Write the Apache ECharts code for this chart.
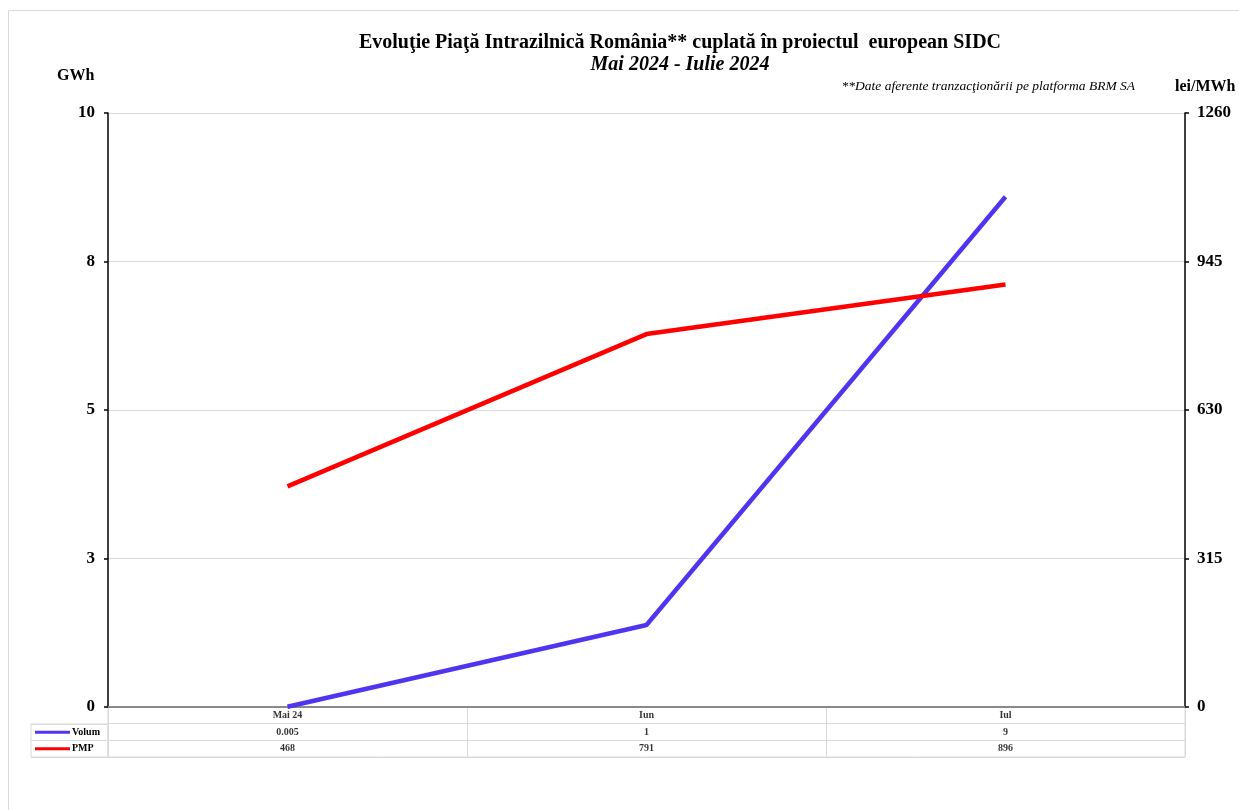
<!DOCTYPE html>
<html>
<head>
<meta charset="utf-8">
<script src="https://cdn.jsdelivr.net/npm/echarts@6/dist/echarts.min.js"></script>
<style>
html,body{margin:0;padding:0;background:#fff;}
#chart{width:1239px;height:810px;}
</style>
</head>
<body>
<div id="chart"></div>
<script>
var categories = ['Mai 24', 'Iun', 'Iul'];
var volum = [0.005, 1.38, 8.59];
var pmp = [468, 791, 896];
var leftTicks = [0, 2.5, 5, 7.5, 10];
var rightTicks = [0, 315, 630, 945, 1260];
var seriesNames = ['Volum', 'PMP'];

var FONT = '"Liberation Serif", "Times New Roman", serif';
var BLUE = '#5035F0';
var RED = '#FF0000';

function fmtVol(v) { return v < 1 ? v.toFixed(3) : String(Math.round(v)); }

var tableData = [];
categories.forEach(function (c, i) {
  tableData.push([i, 'hdr', c]);
  tableData.push([i, 'Volum', fmtVol(volum[i])]);
  tableData.push([i, 'PMP', String(pmp[i])]);
});

var chart = echarts.init(document.getElementById('chart'));
chart.setOption({
  animation: false,
  backgroundColor: '#fff',
  title: [
    { text: 'Evoluţie Piaţă Intrazilnică România** cuplată în proiectul  european SIDC', left: 675, textAlign: 'center', top: 28,
      textStyle: { fontFamily: FONT, fontSize: 20, fontWeight: 'bold', color: '#000' } },
    { text: 'Mai 2024 - Iulie 2024', left: 675, textAlign: 'center', top: 50,
      textStyle: { fontFamily: FONT, fontSize: 20, fontWeight: 'bold', fontStyle: 'italic', color: '#000' } }
  ],
  graphic: [
    { type: 'rect', shape: { x: 8.5, y: 10.5, width: 1300, height: 900 }, style: { fill: 'none', stroke: '#d9d9d9', lineWidth: 1 }, silent: true },
    { type: 'text', left: 57, top: 68, style: { text: 'GWh', font: 'bold 16px ' + FONT, fill: '#000' } },
    { type: 'text', left: 1175, top: 79, style: { text: 'lei/MWh', font: 'bold 16px ' + FONT, fill: '#000' } },
    { type: 'text', right: 104, top: 79, style: { text: '**Date aferente tranzacţionării pe platforma BRM SA', font: 'italic 13.5px ' + FONT, fill: '#000', align: 'right' } }
  ],
  grid: [
    { left: 108, right: 54, top: 113, height: 594 },
    { left: 108, right: 54, top: 707, height: 50, show: true, borderColor: '#d9d9d9', borderWidth: 1 },
    { left: 31, width: 77, top: 724, height: 33, show: true, borderColor: '#d9d9d9', borderWidth: 1 }
  ],
  xAxis: [
    { type: 'category', gridIndex: 0, data: categories, boundaryGap: true,
      axisLine: { lineStyle: { color: '#898989', width: 2 } }, axisTick: { show: false }, axisLabel: { show: false } },
    { type: 'category', gridIndex: 1, data: categories, boundaryGap: true,
      axisLine: { show: false }, axisTick: { show: false }, axisLabel: { show: false },
      splitLine: { show: true, lineStyle: { color: '#d9d9d9', width: 1 } } },
    { type: 'value', gridIndex: 2, min: 0, max: 1, show: false }
  ],
  yAxis: [
    { type: 'value', gridIndex: 0, min: 0, max: 10, interval: 2.5,
      axisLine: { show: true, lineStyle: { color: '#000', width: 1.5 } },
      axisTick: { show: true, length: 4, lineStyle: { color: '#000', width: 1.5 } },
      axisLabel: { fontFamily: FONT, fontSize: 17, fontWeight: 'bold', color: '#000', margin: 13,
        formatter: function (v) { return String(Math.round(v)); } },
      splitLine: { show: true, lineStyle: { color: '#d9d9d9', width: 1 } } },
    { type: 'value', gridIndex: 0, position: 'right', min: 0, max: 1260, interval: 315,
      axisLine: { show: true, lineStyle: { color: '#000', width: 1.5 } },
      axisTick: { show: true, length: 4, lineStyle: { color: '#000', width: 1.5 } },
      axisLabel: { fontFamily: FONT, fontSize: 17, fontWeight: 'bold', color: '#000', margin: 12,
        formatter: function (v) { return String(v); } },
      splitLine: { show: false } },
    { type: 'category', gridIndex: 1, data: ['hdr', 'Volum', 'PMP'], inverse: true, boundaryGap: true,
      axisLine: { show: false }, axisTick: { show: false }, axisLabel: { show: false },
      splitLine: { show: true, lineStyle: { color: '#d9d9d9', width: 1 } } },
    { type: 'category', gridIndex: 2, data: seriesNames, inverse: true, boundaryGap: true,
      axisLine: { show: false }, axisTick: { show: false },
      splitLine: { show: true, lineStyle: { color: '#d9d9d9', width: 1 } },
      axisLabel: { inside: true, margin: 4,
        formatter: function (v) { return (v === 'Volum' ? '{b|}' : '{r|}') + '{t|' + v + '}'; },
        rich: {
          b: { backgroundColor: BLUE, width: 35, height: 3 },
          r: { backgroundColor: RED, width: 35, height: 3 },
          t: { fontFamily: FONT, fontSize: 10, fontWeight: 'bold', color: '#000', padding: [0, 0, 0, 2] }
        } } }
  ],
  series: [
    { name: 'Volum', type: 'line', xAxisIndex: 0, yAxisIndex: 0, data: volum, symbol: 'none',
      lineStyle: { color: BLUE, width: 4.5 }, itemStyle: { color: BLUE } },
    { name: 'PMP', type: 'line', xAxisIndex: 0, yAxisIndex: 1, data: pmp, symbol: 'none',
      lineStyle: { color: RED, width: 4.5 }, itemStyle: { color: RED } },
    { name: 'table', type: 'scatter', xAxisIndex: 1, yAxisIndex: 2, data: tableData, symbolSize: 0,
      label: { show: true, position: 'inside', fontFamily: FONT, fontSize: 10, fontWeight: 'bold', color: '#000',
        formatter: function (p) { return p.data[2]; } } }
  ]
});
</script>
</body>
</html>
